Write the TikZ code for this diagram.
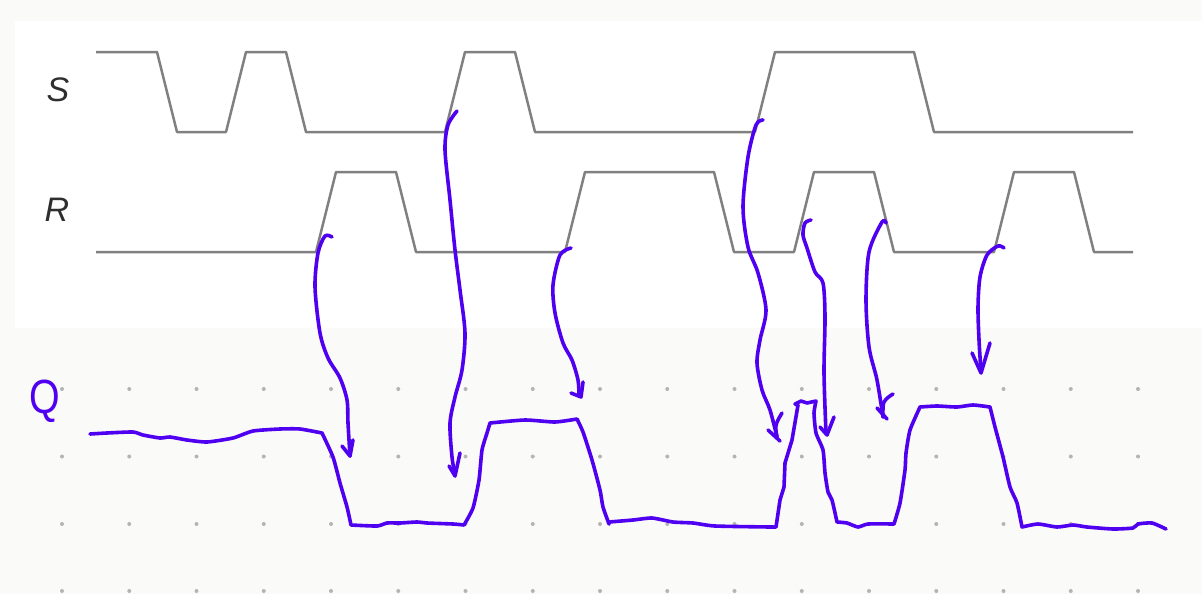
\documentclass[tikz,border=0pt]{standalone}
\usepackage{fontspec}
\setmainfont{Liberation Sans}
\definecolor{paper}{HTML}{FAFAF8}
\definecolor{griddot}{HTML}{B4B4B2}
\definecolor{trace}{HTML}{808080}
\definecolor{ink}{HTML}{5000F0}
\definecolor{labelgrey}{HTML}{2E2E2E}
\tikzset{
  wave/.style={draw=trace,line width=1.25pt,line join=round},
  hand/.style={draw=ink,line width=1.8pt,line cap=round,line join=round},
  signal/.style={inner sep=0pt,text=labelgrey,font=\fontsize{17}{19}\selectfont\itshape},
  griddotmark/.style={fill=griddot,draw=none}
}
\begin{document}
\begin{tikzpicture}[x=0.5pt,y=-0.5pt]
\useasboundingbox (0,0) rectangle (1202,594);
\fill[paper] (0,0) rectangle (1202,594);
\fill[white] (15,21) rectangle (1202,328);
% dot grid
\foreach \k in {0,...,16}
  \foreach \yy in {389,456.5,524,591}
    \fill[griddotmark] ({62+67.25*\k},\yy) circle[radius=2];
% S and R traces
\draw[wave] (96,52)--(157,52)--(177,132)--(226,132)--(246,52)--(286,52)--(306,132)--(445,132)--(465,52)--(515,52)--(535,132)--(755,132)--(775,52)--(914,52)--(934,132)--(1133,132);
\draw[wave] (96,252)--(316,252)--(336,172)--(396,172)--(416,252)--(565,252)--(585,172)--(714,172)--(734,252)--(794,252)--(814,172)--(874,172)--(894,252)--(994,252)--(1014,172)--(1074,172)--(1094,252)--(1133,252);
\node[signal] (s) at (58,90) {S};
\node[signal] (r) at (57,210) {R};
\node[inner sep=0pt,text=ink,font=\fontsize{24}{28}\selectfont] (q) at (45,401) {\scalebox{0.82}[1]{Q}};
% Q trace
\draw[hand] plot[smooth,tension=0.35] coordinates {(90,434)(107,433)(133,432)(143,435)(160,438)(170,437)(187,440)(207,442)(233,438)(253,431)(280,429)(300,429)(322,433)}
  -- plot[smooth,tension=0.35] coordinates {(322,433)(333,457)(340,483)(347,507)(351,525)}
  -- plot[smooth,tension=0.35] coordinates {(351,525)(377,526)(387,523)(400,523)(417,522)(427,523)(453,524)(464,525)}
  -- plot[smooth,tension=0.35] coordinates {(464,525)(473,508)(479,480)(482,450)(487,433)(490,423)}
  -- plot[smooth,tension=0.35] coordinates {(490,423)(525,420)(555,422)(577,419)}
  -- plot[smooth,tension=0.35] coordinates {(577,419)(583,432)(592,460)(600,490)(603,507)(609,524)}
  -- plot[smooth,tension=0.35] coordinates {(609,522)(633,520)(652,518)(673,522)(693,523)(715,526)(770,527)(776,527)}
  -- (780,500) -- (784,487) -- (785,463) -- (792,440) -- (798,405)
  -- (795,404) -- (801,401) -- (807,403) -- (816,401)
  -- plot[smooth,tension=0.35] coordinates {(816,401)(814,413)(816,433)(823,450)(825,473)(828,492)(832,500)(837,522)}
  -- plot[smooth,tension=0.35] coordinates {(837,522)(847,523)(858,527)(868,524)(894,524)}
  -- plot[smooth,tension=0.35] coordinates {(894,524)(900,503)(905,470)(906,453)(910,430)(920,407)}
  -- plot[smooth,tension=0.35] coordinates {(920,407)(937,406)(957,407)(973,405)(990,407)}
  -- plot[smooth,tension=0.35] coordinates {(990,407)(995,427)(1003,457)(1010,487)(1017,503)(1022,527)}
  -- plot[smooth,tension=0.35] coordinates {(1022,527)(1038,524)(1057,527)(1073,525)(1087,527)(1113,529)(1133,528)(1138,524)(1152,523)(1166,529)};
% arrows
\draw[hand] plot[smooth,tension=0.5] coordinates {(332,237)(325,236)(318,253)(315,287)(320,333)(328,358)(340,378)(347,400)(348,423)(350,456)};
\draw[hand] (342,446)--(350,456)--(353,440);
\draw[hand] plot[smooth,tension=0.5] coordinates {(457,111)(448,125)(445,150)(450,200)(455,250)(460,290)(465,333)(462,370)(455,397)(450,423)(452,457)(455,475)};
\draw[hand] (449,466)--(455,476)--(460,453);
\draw[hand] plot[smooth,tension=0.5] coordinates {(571,248)(560,255)(553,285)(555,313)(563,343)(572,360)(578,380)(579,395)};
\draw[hand] (571,393)--(581,397)--(583,382);
\draw[hand] plot[smooth,tension=0.5] coordinates {(763,120)(756,125)(748,157)(743,207)(748,247)(758,273)(766,310)(760,340)(757,363)(762,390)(770,410)(777,437)};
\draw[hand] (768,430)--(780,441);
\draw[hand] plot[smooth,tension=0.6] coordinates {(777,437)(776,425)(782,413)};
\draw[hand] plot[smooth,tension=0.5] coordinates {(811,220)(805,223)(803,235)(807,248)(815,272)(823,283)(825,317)(824,373)(826,433)};
\draw[hand] (820,427)--(827,435)--(834,417);
\draw[hand] plot[smooth,tension=0.5] coordinates {(886,223)(882,222)(869,252)(866,300)(869,347)(877,380)(883,417)};
\draw[hand] (877,408)--(887,419);
\draw[hand] plot[smooth,tension=0.6] coordinates {(883,417)(884,402)(893,394)};
\draw[hand] plot[smooth,tension=0.5] coordinates {(1004,248)(998,246)(987,255)(980,277)(978,307)(979,340)(981,372)};
\draw[hand] (972,353)--(981,373)--(990,343);
\end{tikzpicture}
\end{document}
